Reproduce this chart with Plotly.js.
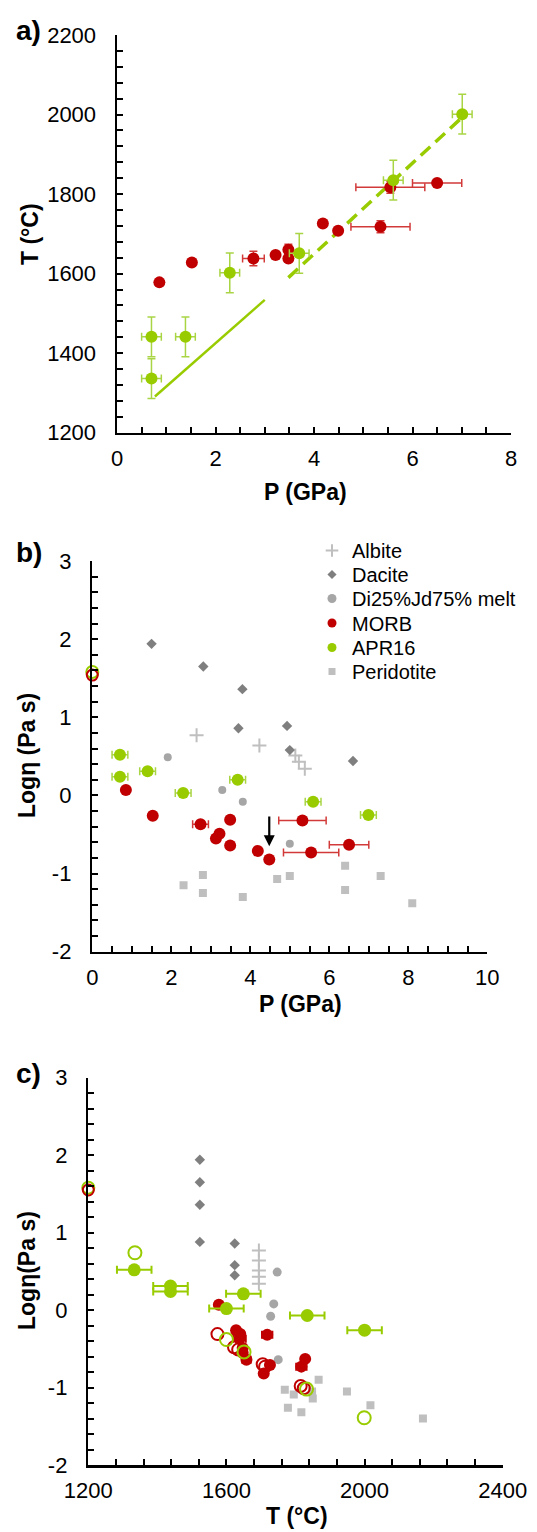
<!DOCTYPE html>
<html>
<head>
<meta charset="utf-8">
<script src="https://cdn.plot.ly/plotly-3.0.1.min.js"></script>
<style>html,body{margin:0;padding:0;background:#fff;}#chart{width:537px;height:1532px;}</style>
</head>
<body>
<div id="chart"></div>
<script>
// ---------- Panel a: T vs P ----------
const aMorbP    = [0.86, 1.52, 2.77, 3.22, 3.48, 3.48, 4.18, 4.49, 5.35, 5.55, 6.50];
const aMorbT    = [1578, 1628, 1638, 1647, 1660, 1638, 1726, 1708, 1718, 1817, 1828];
const aMorbPerr = [NaN, NaN, 0.22, NaN, NaN, NaN, NaN, NaN, 0.6, 0.7, 0.5];
const aMorbTerr = [NaN, NaN, 18, NaN, 14, NaN, NaN, NaN, 15, 15, NaN];
const aAprP     = [0.70, 0.70, 1.39, 2.29, 3.70, 5.61, 7.01];
const aAprT     = [1336, 1441, 1441, 1602, 1651, 1835, 2001];
const aAprPerr  = [0.2, 0.2, 0.2, 0.2, 0.2, 0.2, 0.2];
const aAprTerr  = [50, 50, 50, 50, 50, 50, 50];
const aSolidP   = [0.77, 3.00];
const aSolidT   = [1291, 1534];
const aDashP    = [3.48, 7.00];
const aDashT    = [1590, 1992];

// ---------- Panel b: log viscosity vs P ----------
const bAlbiteP  = [2.64, 4.23, 5.14, 5.23, 5.38];
const bAlbiteV  = [0.77, 0.64, 0.51, 0.43, 0.34];
const bDaciteP  = [1.50, 2.81, 3.80, 3.70, 4.93, 5.00, 6.60];
const bDaciteV  = [1.94, 1.65, 1.36, 0.86, 0.89, 0.58, 0.44];
const bDiP      = [1.91, 3.29, 3.81, 5.00];
const bDiV      = [0.49, 0.07, -0.08, -0.62];
const bMorbP    = [0.85, 1.53, 2.74, 3.13, 3.22, 3.49, 3.49, 4.19, 4.48, 5.32, 5.54, 6.50];
const bMorbV    = [0.07, -0.26, -0.37, -0.55, -0.49, -0.31, -0.64, -0.71, -0.82, -0.32, -0.73, -0.63];
const bMorbPerr = [NaN, NaN, 0.2, NaN, NaN, NaN, NaN, NaN, NaN, 0.6, 0.7, 0.5];
const bAprP     = [0.70, 0.70, 1.40, 2.30, 3.68, 5.59, 6.99];
const bAprV     = [0.52, 0.24, 0.31, 0.03, 0.20, -0.08, -0.25];
const bAprPerr  = [0.2, 0.2, 0.2, 0.2, 0.2, 0.2, 0.2];
const bPeriP    = [2.31, 2.80, 2.80, 3.81, 4.68, 5.00, 6.40, 6.40, 7.30, 8.10];
const bPeriV    = [-1.15, -1.02, -1.25, -1.30, -1.07, -1.03, -0.90, -1.21, -1.03, -1.38];
const bOpenMorbP = [0];    const bOpenMorbV = [1.54];
const bOpenAprP  = [0];    const bOpenAprV  = [1.58];
const bArrowP    = 4.48;   const bArrowFrom = -0.25; const bArrowTo = -0.65;

// ---------- Panel c: log viscosity vs T ----------
const cAlbiteT  = [1694, 1694, 1694, 1694, 1694];
const cAlbiteV  = [0.77, 0.64, 0.51, 0.43, 0.34];
const cDaciteT  = [1523, 1523, 1523, 1523, 1624, 1624, 1624];
const cDaciteV  = [1.94, 1.65, 1.36, 0.88, 0.86, 0.58, 0.45];
const cDiT      = [1747, 1737, 1728, 1750];
const cDiV      = [0.49, 0.08, -0.08, -0.64];
const cMorbT    = [1578, 1628, 1638, 1647, 1647, 1640, 1658, 1726, 1708, 1718, 1817, 1828];
const cMorbV    = [0.07, -0.26, -0.37, -0.55, -0.49, -0.31, -0.64, -0.71, -0.82, -0.32, -0.73, -0.63];
const cMorbTerr = [NaN, NaN, 18, NaN, NaN, NaN, 12, NaN, NaN, 15, 15, NaN];
const cMorbOpenT = [1574, 1622, 1634, 1705, 1712, 1815, 1824];
const cMorbOpenV = [-0.31, -0.48, -0.51, -0.70, -0.73, -0.98, -1.01];
const cAprT     = [1333, 1438, 1438, 1600, 1649, 1834, 2000];
const cAprV     = [0.52, 0.31, 0.24, 0.02, 0.21, -0.07, -0.26];
const cAprTerr  = [50, 50, 50, 50, 50, 50, 50];
const cAprOpenT = [1335, 1600, 1651, 1832, 1999];
const cAprOpenV = [0.74, -0.38, -0.54, -1.02, -1.39];
const cPeriT    = [1769, 1795, 1778, 1817, 1848, 1850, 1867, 1949, 2017, 2169];
const cPeriV    = [-1.03, -1.09, -1.26, -1.32, -1.05, -1.14, -0.90, -1.05, -1.23, -1.40];
const cOpenMorbT = [1200]; const cOpenMorbV = [1.55];
const cOpenAprT  = [1200]; const cOpenAprV  = [1.58];

const legendNames = ['Albite', 'Dacite', 'Di25%Jd75% melt', 'MORB', 'APR16', 'Peridotite'];

// ---------- styling ----------
const RED = '#c00000', RED_ERR = '#d23a3a';
const GREEN = '#99cc00', GREEN_ERR = '#a9d545';
const DACITE = '#7f7f7f', DI = '#a6a6a6', ALB = '#bfbfbf', PERI = '#bfbfbf';
const FONT = 'Arial, "Liberation Sans", sans-serif';
const W = 537, H = 1532;
const px = v => v / W, py = v => 1 - v / H;

function tickSet(lo, hi, step, labelEvery) {
  const vals = [], text = [];
  const n = Math.round((hi - lo) / step);
  for (let i = 0; i <= n; i++) {
    const v = Math.round((lo + i * step) * 1000) / 1000;
    vals.push(v);
    const isLab = Math.abs(v / labelEvery - Math.round(v / labelEvery)) < 1e-6;
    text.push(isLab ? String(v) : '');
  }
  return {tickvals: vals, ticktext: text};
}

function axis(domain, range, ticks, anchor, standoff) {
  return Object.assign({
    domain: domain, range: range, anchor: anchor,
    tickmode: 'array',
    showline: true, linecolor: 'black', linewidth: 2.5,
    ticks: 'inside', ticklen: 6, tickwidth: 2, tickcolor: 'black',
    showgrid: false, zeroline: false, fixedrange: true,
    ticklabelstandoff: standoff,
    tickfont: {family: FONT, size: 22, color: 'black'}
  }, ticks);
}

const errX = (arr, color, th, w) => ({type: 'data', array: arr, symmetric: true, color: color, thickness: th, width: w, visible: true});
const errY = errX;

const traces = [];
function sc(o) { traces.push(Object.assign({type: 'scatter', mode: 'markers', showlegend: false, hoverinfo: 'skip'}, o)); }

// Panel a
sc({x: aSolidP, y: aSolidT, mode: 'lines', line: {color: GREEN, width: 2.5}, xaxis: 'x', yaxis: 'y'});
sc({x: aDashP, y: aDashT, mode: 'lines', line: {color: GREEN, width: 3.5, dash: '13px,7px'}, xaxis: 'x', yaxis: 'y'});
sc({x: aMorbP, y: aMorbT, xaxis: 'x', yaxis: 'y', marker: {color: RED, size: 12},
    error_x: errX(aMorbPerr, RED_ERR, 1.5, 4), error_y: errY(aMorbTerr, RED_ERR, 1.5, 4)});
sc({x: aAprP, y: aAprT, xaxis: 'x', yaxis: 'y', marker: {color: GREEN, size: 12},
    error_x: errX(aAprPerr, GREEN_ERR, 1.5, 4), error_y: errY(aAprTerr, GREEN_ERR, 1.5, 4)});

// Panel b
sc({x: bPeriP, y: bPeriV, xaxis: 'x2', yaxis: 'y2', marker: {color: PERI, size: 8, symbol: 'square'}});
sc({x: bAlbiteP, y: bAlbiteV, xaxis: 'x2', yaxis: 'y2', marker: {color: ALB, size: 10, symbol: 'cross-thin', line: {color: ALB, width: 2}}});
sc({x: bDaciteP, y: bDaciteV, xaxis: 'x2', yaxis: 'y2', marker: {color: DACITE, size: 8, symbol: 'diamond'}});
sc({x: bDiP, y: bDiV, xaxis: 'x2', yaxis: 'y2', marker: {color: DI, size: 8}});
sc({x: bAprP, y: bAprV, xaxis: 'x2', yaxis: 'y2', marker: {color: GREEN, size: 12},
    error_x: errX(bAprPerr, GREEN_ERR, 1.5, 4)});
sc({x: bMorbP, y: bMorbV, xaxis: 'x2', yaxis: 'y2', marker: {color: RED, size: 12},
    error_x: errX(bMorbPerr, RED_ERR, 1.5, 4)});
sc({x: bOpenAprP, y: bOpenAprV, xaxis: 'x2', yaxis: 'y2', cliponaxis: false, marker: {color: GREEN, size: 12, symbol: 'circle-open', line: {width: 2}}});
sc({x: bOpenMorbP, y: bOpenMorbV, xaxis: 'x2', yaxis: 'y2', cliponaxis: false, marker: {color: RED, size: 11, symbol: 'circle-open', line: {width: 2}}});

// Panel c
sc({x: cPeriT, y: cPeriV, xaxis: 'x3', yaxis: 'y3', marker: {color: PERI, size: 8, symbol: 'square'}});
sc({x: cAlbiteT, y: cAlbiteV, xaxis: 'x3', yaxis: 'y3', marker: {color: ALB, size: 10, symbol: 'cross-thin', line: {color: ALB, width: 2}}});
sc({x: cDaciteT, y: cDaciteV, xaxis: 'x3', yaxis: 'y3', marker: {color: DACITE, size: 8, symbol: 'diamond'}});
sc({x: cDiT, y: cDiV, xaxis: 'x3', yaxis: 'y3', marker: {color: DI, size: 9}});
sc({x: cMorbT, y: cMorbV, xaxis: 'x3', yaxis: 'y3', marker: {color: RED, size: 12},
    error_x: errX(cMorbTerr, RED, 2, 4)});
sc({x: cAprT, y: cAprV, xaxis: 'x3', yaxis: 'y3', marker: {color: GREEN, size: 13},
    error_x: errX(cAprTerr, GREEN, 2, 4)});
sc({x: cMorbOpenT, y: cMorbOpenV, xaxis: 'x3', yaxis: 'y3', marker: {color: RED, size: 12, symbol: 'circle-open', line: {width: 2}}});
sc({x: cAprOpenT, y: cAprOpenV, xaxis: 'x3', yaxis: 'y3', marker: {color: GREEN, size: 13, symbol: 'circle-open', line: {width: 2}}});
sc({x: cOpenAprT, y: cOpenAprV, xaxis: 'x3', yaxis: 'y3', cliponaxis: false, marker: {color: GREEN, size: 12, symbol: 'circle-open', line: {width: 2}}});
sc({x: cOpenMorbT, y: cOpenMorbV, xaxis: 'x3', yaxis: 'y3', cliponaxis: false, marker: {color: RED, size: 11, symbol: 'circle-open', line: {width: 2}}});

// legend entries (no data), each in its own legend box so the row spacing matches
const legMarkers = [
  {color: ALB, size: 9, symbol: 'cross-thin', line: {color: ALB, width: 2}},
  {color: DACITE, size: 7, symbol: 'diamond'},
  {color: DI, size: 9},
  {color: RED, size: 9},
  {color: GREEN, size: 9},
  {color: PERI, size: 7, symbol: 'square'}
];
const legendRowY = [550.5, 574.5, 598.5, 623, 647.5, 671.5];
const legendIds = ['legend', 'legend2', 'legend3', 'legend4', 'legend5', 'legend6'];
legendNames.forEach((n, i) => {
  traces.push({type: 'scatter', mode: 'markers', x: [null], y: [null], xaxis: 'x2', yaxis: 'y2',
    name: n, showlegend: true, legend: legendIds[i], marker: legMarkers[i], hoverinfo: 'skip'});
});

const ann = [];
function txt(t, x, y, size, bold, angle) {
  ann.push({text: bold ? '<b>' + t + '</b>' : t, xref: 'paper', yref: 'paper', x: px(x), y: py(y),
    xanchor: 'center', yanchor: 'middle', showarrow: false, textangle: angle || 0,
    font: {family: FONT, size: size, color: 'black'}});
}
txt('a)', 28, 30, 28, true);
txt('b)', 29, 553, 28, true);
txt('c)', 28, 1073, 28, true);
txt('T (°C)', 30, 234, 23, true, -90);
txt('P (GPa)', 305, 492, 23, true);
txt('Logη (Pa s)', 27, 756, 23, true, -90);
txt('P (GPa)', 300, 1004, 23, true);
txt('Logη(Pa s)', 27, 1271, 23, true, -90);
txt('T (°C)', 297, 1516, 23, true);
ann.push({xref: 'x2', yref: 'y2', axref: 'x2', ayref: 'y2', x: bArrowP, y: bArrowTo, ax: bArrowP, ay: bArrowFrom,
  showarrow: true, arrowhead: 2, arrowsize: 1, arrowwidth: 2.2, arrowcolor: 'black', text: ''});

const layout = {
  width: W, height: H,
  margin: {l: 0, r: 0, t: 0, b: 0},
  paper_bgcolor: 'white', plot_bgcolor: 'white',
  font: {family: FONT, color: 'black'},
  showlegend: true,
  xaxis:  axis([px(117), px(511)], [0, 8], tickSet(0, 8, 0.5, 2), 'y', 4),
  yaxis:  axis([py(432.7), py(35)], [1200, 2200], tickSet(1200, 2200, 40, 200), 'x', 14),
  xaxis2: axis([px(92.3), px(487.3)], [0, 10], tickSet(0, 10, 0.5, 2), 'y2', 4),
  yaxis2: axis([py(951.7), py(561)], [-2, 3], tickSet(-2, 3, 0.2, 1), 'x2', 14),
  xaxis3: axis([px(88.3), px(502.7)], [1200, 2400], tickSet(1200, 2400, 80, 400), 'y3', 4),
  yaxis3: axis([py(1465), py(1077.7)], [-2, 3], tickSet(-2, 3, 0.2, 1), 'x3', 14),
  annotations: ann
};
legendIds.forEach((id, i) => {
  layout[id] = {x: px(312), y: py(legendRowY[i]), xanchor: 'left', yanchor: 'middle',
    bgcolor: 'rgba(0,0,0,0)', borderwidth: 0, itemsizing: 'trace',
    font: {family: FONT, size: 20, color: 'black'}};
});

Plotly.newPlot('chart', traces, layout, {staticPlot: true, displayModeBar: false});
</script>
</body>
</html>
